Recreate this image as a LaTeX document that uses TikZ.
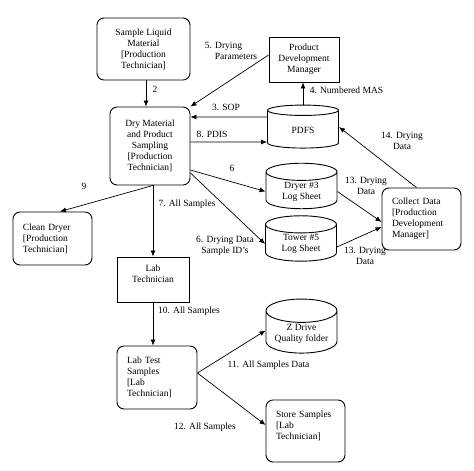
\documentclass[tikz,border=0pt]{standalone}
\usepackage{fontspec}
\setmainfont{Liberation Serif}
\usetikzlibrary{shapes.geometric,arrows.meta}
\begin{document}
\begin{tikzpicture}[x=1pt,y=-1pt,
  every node/.style={font=\fontsize{9.5}{11}\selectfont},
  proc/.style={draw,line width=.9pt,rounded corners=7pt,align=center,inner sep=2pt},
  procl/.style={proc,align=left,inner xsep=10pt},
  who/.style={draw,line width=.9pt,align=center,inner sep=2pt},
  datastore/.style={draw,line width=.9pt,cylinder,shape border rotate=90,aspect=.42,
    align=center,inner sep=1pt,minimum width=71pt,minimum height=43pt},
  arr/.style={-{Latex[length=6pt,width=5pt]},line width=.7pt},
  lbl/.style={align=center,inner sep=0pt}]
\useasboundingbox (0,0) rectangle (474,471);
% boxes
\node[proc,minimum width=93pt,minimum height=62pt] (slm) at (143.5,49) {Sample Liquid\\Material\\{[}Production\\Technician]};
\node[proc,minimum width=80pt,minimum height=78pt] (dry) at (150,146) {Dry Material\\and Product\\Sampling\\{[}Production\\Technician]};
\node[who,minimum width=70pt,minimum height=45pt] (pdm) at (304,59.5) {Product\\Development\\Manager};
\node[datastore] (pdfs) at (303,130) {PDFS};
\node[datastore] (dryer3) at (301.5,191.5) {Dryer \#3\\Log Sheet};
\node[datastore] (tower5) at (301,244) {Tower \#5\\Log Sheet};
\node[procl,text width=59pt,minimum height=62pt] (collect) at (421.5,219) {Collect Data\\{[}Production\\Development\\Manager]};
\node[procl,text width=59pt,minimum height=53pt] (clean) at (52.5,238.5) {Clean Dryer\\{[}Production\\Technician]};
\node[who,minimum width=72pt,minimum height=45pt] (labtech) at (153,279.5) {Lab\\Technician\\\mbox{}};
\node[procl,text width=60pt,minimum height=63pt] (labtest) at (157,377.5) {Lab Test\\Samples\\{[}Lab\\Technician]};
\node[datastore] (zdrive) at (301.5,333.5) {Z Drive\\Quality folder};
\node[procl,text width=59pt,minimum height=62pt] (storesm) at (305.5,431) {Store Samples\\{[}Lab\\Technician]\\\mbox{}};
% flows
\coordinate (c2) at ([xshift=2.5pt]slm.south);
\draw[arr] (c2) -- (c2 |- dry.north);
\draw[arr] ([yshift=4.5pt]pdm.west) -- (dry.north east);
\draw[arr] ([yshift=13pt]pdfs.west) -- ([yshift=29pt]dry.east);
\draw[arr] ([yshift=4pt]dry.east) -- ([yshift=-12pt]pdfs.west);
\draw[arr] (pdfs.north) -- (pdfs.north |- pdm.south);
\draw[arr] ([yshift=-24pt]dry.east) -- (dryer3.west);
\draw[arr] ([yshift=-27pt]dry.east) -- (tower5.west);
\draw[arr] (dryer3.east) -- ([yshift=-3pt]collect.west);
\draw[arr] ([yshift=-3pt]tower5.east) -- ([yshift=-8pt]collect.west);
\draw[arr] ([xshift=-5pt]collect.north) -- ([yshift=3pt]pdfs.east);
\coordinate (c7) at (dry.south -| labtech.north);
\draw[arr] (c7) -- ([xshift=7.5pt]clean.north);
\draw[arr] (c7) -- (labtech.north);
\draw[arr] (labtech.south) -- (labtech.south |- labtest.north);
\draw[arr] ([yshift=4.5pt]labtest.east) -- ([yshift=3pt]zdrive.west);
\draw[arr] ([yshift=4.5pt]labtest.east) -- ([yshift=6pt]storesm.west);
% labels
\node[lbl] (l2) at (155,89) {2};
\node[lbl,align=left] (l5) at (231,51) {5. Drying\\\hspace*{10pt}Parameters};
\node[lbl] (l3) at (226,107) {3. SOP};
\node[lbl] (l8) at (212,134) {8. PDIS};
\node[lbl] (l4) at (346.5,90) {4. Numbered MAS};
\node[lbl] (l6) at (232,168) {6};
\node[lbl] (l6b) at (225,246) {6. Drying Data\\Sample ID's};
\node[lbl] (l13a) at (366,185.5) {13. Drying\\Data};
\node[lbl] (l13b) at (365,255.5) {13. Drying\\Data};
\node[lbl] (l14) at (402,140.5) {14. Drying\\Data};
\node[lbl] (l9) at (84,186) {9};
\node[lbl] (l7) at (187,204) {7. All Samples};
\node[lbl] (l10) at (189,311) {10. All Samples};
\node[lbl] (l11) at (268.5,365) {11. All Samples Data};
\node[lbl] (l12) at (205,427) {12. All Samples};
\end{tikzpicture}
\end{document}
